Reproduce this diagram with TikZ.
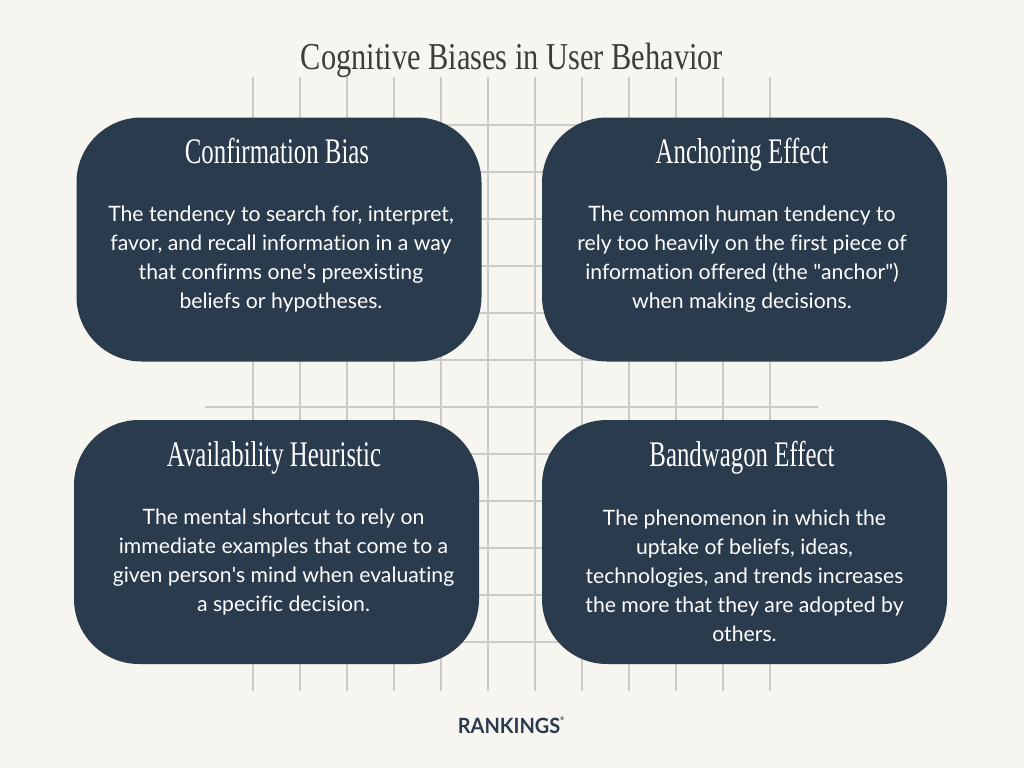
\documentclass[tikz,border=0pt]{standalone}
\usepackage{fontspec}
\setmainfont[Ligatures=NoCommon]{Lato}
\newfontfamily\titlefont[FakeStretch=0.80]{Liberation Serif}
\newfontfamily\headfont[FakeStretch=0.69]{Liberation Serif}
\newfontfamily\logofont[FakeStretch=0.95]{Lato}
\definecolor{paper}{HTML}{F6F5F0}
\definecolor{navy}{HTML}{2B3B4E}
\definecolor{gridline}{HTML}{CBCCCA}
\definecolor{titleink}{HTML}{3C3C39}
\tikzset{
  card/.style={fill=navy, rounded corners=65pt, inner sep=0pt, minimum height=244pt, minimum width=405pt},
  heading/.style={text=white, anchor=base, font=\headfont\fontsize{36}{38}\selectfont},
  blurb/.style={text=white, align=center, font=\fontsize{21.2}{29}\selectfont},
}
\begin{document}
\begin{tikzpicture}[x=1pt, y=-1pt]
  \useasboundingbox (0,0) rectangle (1024,768);
  \fill[paper] (0,0) rectangle (1024,768);

  % grid behind the cards
  \foreach \gx in {253,300,...,770}
    \draw[gridline, line width=1.1pt] (\gx,77) -- (\gx,691);
  \foreach \gy in {125,172,...,642}
    \draw[gridline, line width=1.1pt] (205,\gy) -- (818,\gy);

  \node [anchor=base](title) at (512,69) {\titlefont\fontsize{38}{40}\selectfont\color{titleink}Cognitive Biases in User Behavior};

  % cards
  \node [card](conf) at (279,239.5) {};
  \node [card](anch) at (744.5,239.5) {};
  \node [card](avail) at (276.5,542) {};
  \node [card](band) at (744.5,542) {};

  % input headings position and text
  \node [heading](confh) at (277,163) {Confirmation Bias};
  \node [heading](anchh) at (742,163) {Anchoring Effect};
  \node [heading](availh) at (274,466) {Availability Heuristic};
  \node [heading](bandh) at (742,466) {Bandwagon Effect};

  \node [blurb](conft) at (281,259.5) {The tendency to search for, interpret,\\favor, and recall information in a way\\that confirms one\textquotesingle s preexisting\\beliefs or hypotheses.};
  \node [blurb](ancht) at (742,259.5) {The common human tendency to\\rely too heavily on the first piece of\\information offered (the \textquotedbl anchor\textquotedbl)\\when making decisions.};
  \node [blurb](availt) at (283.5,562.5) {The mental shortcut to rely on\\immediate examples that come to a\\given person\textquotesingle s mind when evaluating\\a specific decision.};
  \node [blurb](bandt) at (744.5,575.5) {The phenomenon in which the\\uptake of beliefs, ideas,\\technologies, and trends increases\\the more that they are adopted by\\others.};

  \node (logo) at (511,725.5) {\logofont\bfseries\fontsize{21}{24}\selectfont\color{navy}RANKINGS\raisebox{1.2ex}{\fontsize{5}{6}\selectfont\textregistered}};
\end{tikzpicture}
\end{document}
